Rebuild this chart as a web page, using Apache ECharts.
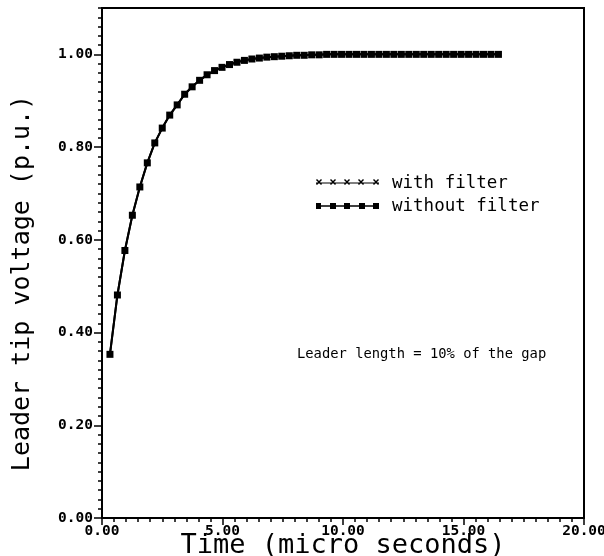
<!DOCTYPE html>
<html>
<head>
<meta charset="utf-8">
<script src="https://cdn.jsdelivr.net/npm/echarts@6/dist/echarts.min.js"></script>
<style>
html,body{margin:0;padding:0;background:#fff;}
#chart{width:604px;height:556px;}
</style>
</head>
<body>
<div id="chart"></div>
<script>
// Time (micro seconds)
var timeValues = [0.33, 0.64, 0.95, 1.26, 1.57, 1.88, 2.19, 2.50, 2.81, 3.12, 3.43, 3.74, 4.05, 4.36, 4.67, 4.98, 5.29, 5.60, 5.91, 6.22, 6.53, 6.84, 7.15, 7.46, 7.77, 8.08, 8.39, 8.70, 9.01, 9.32, 9.63, 9.94, 10.25, 10.56, 10.87, 11.18, 11.49, 11.80, 12.11, 12.42, 12.73, 13.04, 13.35, 13.66, 13.97, 14.28, 14.59, 14.90, 15.21, 15.52, 15.83, 16.14, 16.45];
// Leader tip voltage (p.u.) with filter
var withFilter = [0.353, 0.481, 0.577, 0.653, 0.714, 0.766, 0.809, 0.841, 0.869, 0.891, 0.914, 0.930, 0.944, 0.956, 0.965, 0.972, 0.978, 0.983, 0.987, 0.990, 0.992, 0.994, 0.995, 0.996, 0.997, 0.998, 0.998, 0.999, 0.999, 1.000, 1.000, 1.000, 1.000, 1.000, 1.000, 1.000, 1.000, 1.000, 1.000, 1.000, 1.000, 1.000, 1.000, 1.000, 1.000, 1.000, 1.000, 1.000, 1.000, 1.000, 1.000, 1.000, 1.000];
// Leader tip voltage (p.u.) without filter
var withoutFilter = [0.353, 0.481, 0.577, 0.653, 0.714, 0.766, 0.809, 0.841, 0.869, 0.891, 0.914, 0.930, 0.944, 0.956, 0.965, 0.972, 0.978, 0.983, 0.987, 0.990, 0.992, 0.994, 0.995, 0.996, 0.997, 0.998, 0.998, 0.999, 0.999, 1.000, 1.000, 1.000, 1.000, 1.000, 1.000, 1.000, 1.000, 1.000, 1.000, 1.000, 1.000, 1.000, 1.000, 1.000, 1.000, 1.000, 1.000, 1.000, 1.000, 1.000, 1.000, 1.000, 1.000];
var xTicks = [0, 5, 10, 15, 20];
var yTicks = [0, 0.2, 0.4, 0.6, 0.8, 1.0];
var seriesNames = ['with filter', 'without filter'];
var xTitle = 'Time (micro seconds)';
var yTitle = 'Leader tip voltage (p.u.)';
var note = 'Leader length = 10% of the gap';

function pairs(xs, ys) {
  var out = [];
  for (var i = 0; i < xs.length; i++) out.push([xs[i], ys[i]]);
  return out;
}

var crossPath = 'path://M0,1 L1,0 L5,4 L9,0 L10,1 L6,5 L10,9 L9,10 L5,6 L1,10 L0,9 L4,5 Z';
var legendCross = 'path://M0,4.4 H63 V5.6 H0 Z M0,2 L1,1 L3,3 L5,1 L6,2 L4,4 L6,6 L5,7 L3,5 L1,7 L0,6 L2,4 Z M14,2 L15,1 L17,3 L19,1 L20,2 L18,4 L20,6 L19,7 L17,5 L15,7 L14,6 L16,4 Z M28,2 L29,1 L31,3 L33,1 L34,2 L32,4 L34,6 L33,7 L31,5 L29,7 L28,6 L30,4 Z M42,2 L43,1 L45,3 L47,1 L48,2 L46,4 L48,6 L47,7 L45,5 L43,7 L42,6 L44,4 Z M57,2 L58,1 L60,3 L62,1 L63,2 L61,4 L63,6 L62,7 L60,5 L58,7 L57,6 L59,4 Z M0,0 H0.01 V10 H0 Z';
var legendDots = 'path://M0,4.3 H63 V5.7 H0 Z M0,2 H5 V8 H0 Z M14,2 H20 V8 H14 Z M28,2 H34 V8 H28 Z M43,2 H49 V8 H43 Z M57,2 H63 V8 H57 Z M0,0 H0.01 V10 H0 Z';

var MONO = 'DejaVu Sans Mono';
var chart = echarts.init(document.getElementById('chart'), null, {renderer: 'canvas'});
chart.setOption({
  animation: false,
  backgroundColor: '#fff',
  grid: {left: 102, right: 20, top: 8, bottom: 38, outerBoundsMode: 'none', containLabel: false,
    show: true, borderColor: '#000', borderWidth: 2, backgroundColor: 'transparent'},
  legend: {
    orient: 'vertical', left: 311, top: 169, itemWidth: 63, itemHeight: 10, itemGap: 5,
    data: [{name: seriesNames[0], icon: legendCross}, {name: seriesNames[1], icon: legendDots}],
    textStyle: {fontFamily: MONO, fontSize: 17.5, color: '#000', padding: [0, 0, 0, 8]},
    itemStyle: {color: '#000'}
  },
  xAxis: {
    type: 'value', min: 0, max: 20, interval: 5,
    name: xTitle, nameLocation: 'middle', nameGap: 14, nameMoveOverlap: false,
    nameTextStyle: {fontFamily: MONO, fontSize: 27, color: '#000'},
    axisLine: {show: true, lineStyle: {color: '#000', width: 2}},
    axisTick: {show: true, inside: false, length: 7, lineStyle: {color: '#000', width: 1.5}},
    minorTick: {show: true, splitNumber: 10, length: 4, lineStyle: {color: '#000', width: 1.5}},
    splitLine: {show: false},
    axisLabel: {fontFamily: MONO, fontWeight: 'bold', fontSize: 14.5, color: '#000', margin: 6,
      customValues: xTicks, hideOverlap: false,
      formatter: function (v) { return v.toFixed(2); }}
  },
  yAxis: [{
    type: 'value', min: 0, max: 1.1, interval: 0.02,
    name: yTitle, nameLocation: 'middle', nameGap: 67, nameMoveOverlap: false,
    nameTextStyle: {fontFamily: MONO, fontSize: 25, color: '#000', padding: [0, 40, 0, 0]},
    axisLine: {show: true, lineStyle: {color: '#000', width: 2}},
    axisTick: {show: true, inside: false, length: 4, lineStyle: {color: '#000', width: 1.5}},
    splitLine: {show: false},
    axisLabel: {fontFamily: MONO, fontWeight: 'bold', fontSize: 14.5, color: '#000', margin: 9,
      customValues: yTicks,
      formatter: function (v) { return v.toFixed(2); }}
  }, {
    type: 'value', min: 0, max: 1.1, position: 'left',
    axisLine: {show: false},
    axisTick: {show: true, inside: false, length: 8, customValues: yTicks, lineStyle: {color: '#000', width: 1.5}},
    splitLine: {show: false},
    axisLabel: {show: false}
  }],
  graphic: [{
    type: 'text', left: 297, top: 347,
    style: {text: note, fontFamily: MONO, fontSize: 13.8, fill: '#000'}
  }],
  series: [{
    name: seriesNames[0], type: 'line', yAxisIndex: 0,
    data: pairs(timeValues, withFilter),
    symbol: crossPath, symbolSize: 5, showSymbol: true,
    lineStyle: {color: '#000', width: 2}, itemStyle: {color: '#000'}, z: 2
  }, {
    name: seriesNames[1], type: 'line', yAxisIndex: 0,
    data: pairs(timeValues, withoutFilter),
    symbol: 'rect', symbolSize: 7, showSymbol: true,
    lineStyle: {color: '#000', width: 2}, itemStyle: {color: '#000'}, z: 3
  }]
});
</script>
</body>
</html>
